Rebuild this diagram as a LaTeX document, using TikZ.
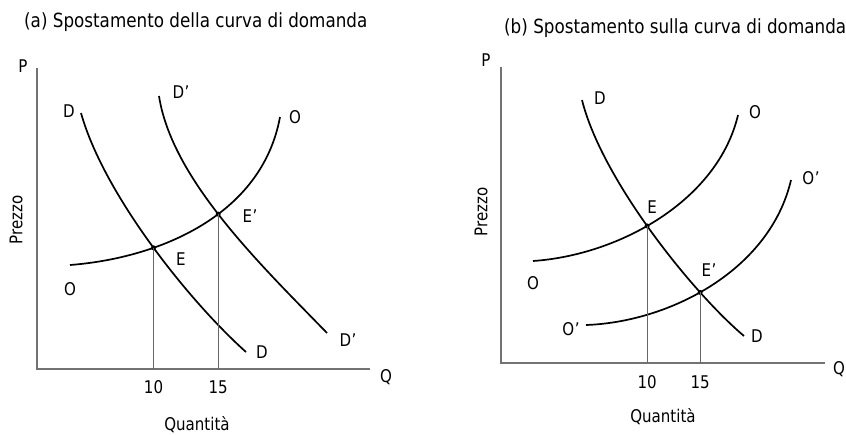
\documentclass[tikz,border=0pt]{standalone}
\usepackage{fontspec}
\setmainfont{DejaVu Sans}[FakeStretch=0.86]
\usetikzlibrary{intersections}
\begin{document}
\begin{tikzpicture}[x=1pt,y=-1pt,
  axis/.style={draw=black!55,line width=1.4pt},
  curve/.style={draw=black,line width=1.7pt},
  guide/.style={draw=black!60,line width=0.8pt},
  lbl/.style={font=\fontsize{17.5}{19}\selectfont,inner sep=0pt},
  ttl/.style={font=\fontsize{19.5}{22}\selectfont,inner sep=0pt,anchor=west},
  dot/.style={circle,fill=black,inner sep=0pt,minimum size=5pt}]
\useasboundingbox (0,0) rectangle (846,434);
% ---------- panel (a) ----------
\node[ttl] (ta) at (24,22) {(a) Spostamento della curva di domanda};
\coordinate (aO) at (37,369);
\coordinate (aPtop) at (37,68);
\coordinate (aQend) at (370,369);
\draw[axis] (aPtop) -- (aO) -- (aQend);
\node[lbl] (aP) at (23,66) {P};
\node[lbl] (aQ) at (386,377) {Q};
\node[lbl,rotate=90] (aPrezzo) at (16,220) {Prezzo};
\node[lbl] (aQuant) at (197,425) {Quantità};
\draw[curve,name path=aD] (81,113) .. controls (104,195) and (190,302) .. (246,352);
\draw[curve,name path=aD2] (159,96) .. controls (172,180) and (262,266) .. (327,333);
\draw[curve,name path=aS] (70,265) .. controls (160,258) and (262,215) .. (280,117);
\path[name intersections={of=aD and aS,by=aE}];
\path[name intersections={of=aD2 and aS,by=aE2}];
\node[dot] (aEd) at (aE) {};
\node[dot] (aE2d) at (aE2) {};
\draw[guide] (aEd.center) -- (aEd.center |- aO);
\draw[guide] (aE2d.center) -- (aE2d.center |- aO);
\node[lbl] (a10) at (aEd.center |- 0,387) {10};
\node[lbl] (a15) at (aE2d.center |- 0,387) {15};
\node[lbl] (aDt) at (69,111) {D};
\node[lbl] (aDb) at (262,352) {D};
\node[lbl] (aD2t) at (181,92) {D\kern0.5pt\char"2019};
\node[lbl] (aD2b) at (348,340) {D\kern0.5pt\char"2019};
\node[lbl] (aOt) at (295,117) {O};
\node[lbl] (aOb) at (70,289) {O};
\node[lbl] (aEl) at (181,259) {E};
\node[lbl] (aE2l) at (250,216) {E\kern0.5pt\char"2019};
% ---------- panel (b) ----------
\node[ttl] (tb) at (504,28) {(b) Spostamento sulla curva di domanda};
\coordinate (bO) at (501,363);
\coordinate (bPtop) at (501,67);
\coordinate (bQend) at (825,363);
\draw[axis] (bPtop) -- (bO) -- (bQend);
\node[lbl] (bP) at (486,60) {P};
\node[lbl] (bQ) at (839,369) {Q};
\node[lbl,rotate=90] (bPrezzo) at (481,212) {Prezzo};
\node[lbl] (bQuant) at (663,417) {Quantità};
\draw[curve,name path=bD] (582,100) .. controls (602,180) and (693,293) .. (744,336);
\draw[curve,name path=bS] (533,261) .. controls (620,255) and (718,200) .. (738,115);
\draw[curve,name path=bS2] (586,325) .. controls (670,322) and (770,270) .. (791,180);
\path[name intersections={of=bD and bS,by=bE}];
\path[name intersections={of=bD and bS2,by=bE2}];
\node[dot] (bEd) at (bE) {};
\node[dot] (bE2d) at (bE2) {};
\draw[guide] (bEd.center) -- (bEd.center |- bO);
\draw[guide] (bE2d.center) -- (bE2d.center |- bO);
\node[lbl] (b10) at (bEd.center |- 0,382) {10};
\node[lbl] (b15) at (bE2d.center |- 0,382) {15};
\node[lbl] (bDt) at (600,98) {D};
\node[lbl] (bDb) at (757,336) {D};
\node[lbl] (bOt) at (755,112) {O};
\node[lbl] (bOb) at (533,283) {O};
\node[lbl] (bO2t) at (811,178) {O\kern0.5pt\char"2019};
\node[lbl] (bO2b) at (571,329) {O\kern0.5pt\char"2019};
\node[lbl] (bEl) at (652,207) {E};
\node[lbl] (bE2l) at (709,270) {E\kern0.5pt\char"2019};
\end{tikzpicture}
\end{document}
